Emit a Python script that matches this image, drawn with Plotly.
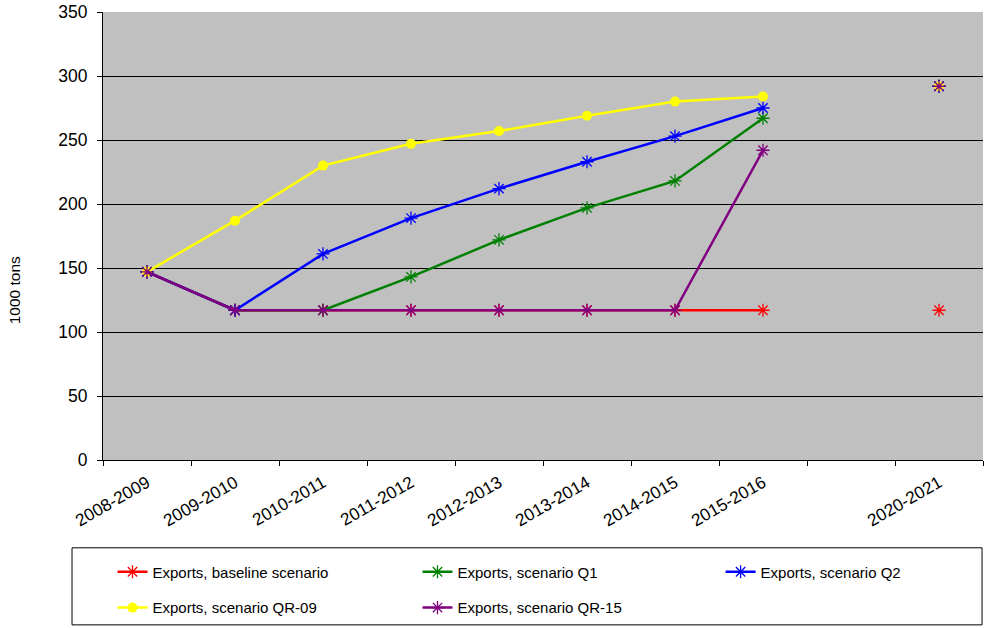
import plotly.graph_objects as go

# ---------------- data ----------------
seasons = ["2008-2009", "2009-2010", "2010-2011", "2011-2012", "2012-2013",
           "2013-2014", "2014-2015", "2015-2016", " ", "2020-2021"]

baseline = [147, 117, 117, 117, 117, 117, 117, 117, None, 117]
q1 = [147, 117, 117, 143, 172, 197, 218, 267, None, 292]
q2 = [147, 117, 161, 189, 212, 233, 253, 275, None, 292]
qr09 = [147, 187, 230, 247, 257, 269, 280, 284, None, 292]
qr15 = [147, 117, 117, 117, 117, 117, 117, 242, None, 292]

# ---------------- figure ----------------
FONT = "Liberation Sans, Arial, sans-serif"

fig = go.Figure()


def star_trace(name, y, color, legend):
    return go.Scatter(
        x=seasons, y=y, name=name, mode="lines+markers",
        line=dict(color=color, width=2.5),
        marker=dict(symbol="asterisk-open", size=11,
                    line=dict(color=color, width=1.3)),
        legend=legend,
    )


fig.add_trace(star_trace("Exports, baseline scenario", baseline, "#FF0000", "legend"))
fig.add_trace(star_trace("Exports, scenario Q1", q1, "#008000", "legend2"))
fig.add_trace(star_trace("Exports, scenario Q2", q2, "#0000FF", "legend3"))
fig.add_trace(go.Scatter(
    x=seasons, y=qr09, name="Exports, scenario QR-09", mode="lines+markers",
    line=dict(color="#FFFF00", width=2.5),
    marker=dict(symbol="circle", size=10, color="#FFFF00"),
    legend="legend4",
))
fig.add_trace(star_trace("Exports, scenario QR-15", qr15, "#800080", "legend5"))


def legend_box(x, y):
    # one legend entry per box, placed like the Excel legend grid
    return dict(orientation="h", x=x, xanchor="left", y=y, yanchor="middle",
                font=dict(size=15), bgcolor="rgba(0,0,0,0)")


fig.update_layout(
    width=986, height=628,
    margin=dict(l=103, r=3, t=12, b=168),
    paper_bgcolor="white",
    plot_bgcolor="#C0C0C0",
    font=dict(family=FONT, size=17, color="black"),
    showlegend=True,
    legend=legend_box(0.0108, -0.25),
    legend2=legend_box(0.3574, -0.25),
    legend3=legend_box(0.7018, -0.25),
    legend4=legend_box(0.0108, -0.33),
    legend5=legend_box(0.3574, -0.33),
    shapes=[dict(type="rect", xref="paper", yref="paper",
                 x0=-0.0352, x1=0.9989, y0=-0.196, y1=-0.368,
                 line=dict(color="black", width=1))],
    annotations=[dict(text="1000 tons", xref="paper", yref="paper",
                      x=-0.101, y=0.379, xanchor="center", yanchor="middle",
                      textangle=-90, showarrow=False, font=dict(size=15.5))],
)

fig.update_xaxes(
    type="category", categoryorder="array", categoryarray=seasons,
    range=[-0.5, 9.5], showgrid=False, showline=True, linecolor="black",
    linewidth=1, ticks="outside", tickson="boundaries", ticklen=5,
    tickcolor="black", tickangle=-30, tickfont=dict(size=17.3),
    ticklabelstandoff=5, automargin=False,
)
fig.update_yaxes(
    range=[0, 350], dtick=50, showgrid=True, gridcolor="black", gridwidth=1,
    zeroline=False, showline=True, linecolor="black", linewidth=1,
    ticks="outside", ticklen=5, tickcolor="black", tickfont=dict(size=17.5),
    ticklabelstandoff=6, automargin=False,
)

# drop the browser's default body margin so the figure sits at the page corner
fig.write_html("out.html", config={"displayModeBar": False},
               post_script="document.body.style.margin='0';")
